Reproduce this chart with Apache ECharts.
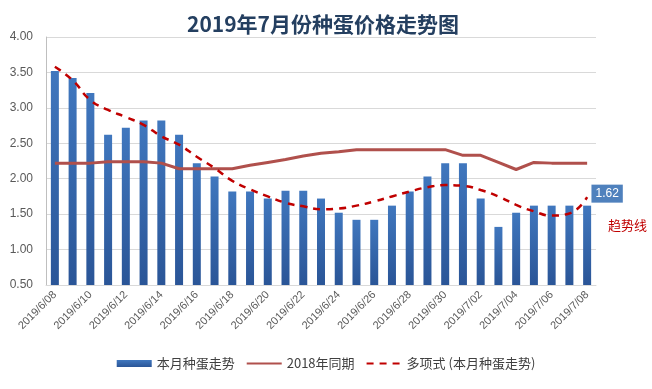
<!DOCTYPE html>
<html>
<head>
<meta charset="utf-8">
<script src="https://cdn.jsdelivr.net/npm/echarts@6/dist/echarts.min.js"></script>
<style>
html,body{margin:0;padding:0;background:#fff;}
#chart{width:652px;height:389px;}
</style>
</head>
<body>
<div id="chart"></div>
<script>
var categories = ['2019/6/08','2019/6/09','2019/6/10','2019/6/11','2019/6/12','2019/6/13','2019/6/14','2019/6/15','2019/6/16','2019/6/17','2019/6/18','2019/6/19','2019/6/20','2019/6/21','2019/6/22','2019/6/23','2019/6/24','2019/6/25','2019/6/26','2019/6/27','2019/6/28','2019/6/29','2019/6/30','2019/7/01','2019/7/02','2019/7/03','2019/7/04','2019/7/05','2019/7/06','2019/7/07','2019/7/08'];
var thisMonth = [3.52,3.42,3.21,2.62,2.72,2.82,2.82,2.62,2.22,2.03,1.82,1.82,1.72,1.83,1.83,1.72,1.52,1.42,1.42,1.62,1.82,2.03,2.22,2.22,1.72,1.32,1.52,1.62,1.62,1.62,1.62];
var lastYear = [2.22,2.22,2.22,2.24,2.24,2.24,2.22,2.14,2.14,2.14,2.14,2.19,2.23,2.27,2.32,2.36,2.38,2.41,2.41,2.41,2.41,2.41,2.41,2.33,2.33,2.23,2.13,2.23,2.22,2.22,2.22];
var trend = [3.58,3.39,3.11,2.97,2.87,2.76,2.60,2.48,2.31,2.15,1.97,1.85,1.75,1.66,1.61,1.57,1.58,1.62,1.68,1.75,1.82,1.88,1.91,1.90,1.84,1.75,1.63,1.54,1.48,1.51,1.74];
var yTicks = {min:0.5, max:4.0, interval:0.5};

var chart = echarts.init(document.getElementById('chart'));
var barData = thisMonth.map(function(v,i){
  if(i === thisMonth.length-1){
    return {value:v, label:{show:true, position:'top', distance:3, offset:[20,0],
      formatter:function(p){return p.value.toFixed(2);},
      backgroundColor:'#4F81BD', color:'#fff', fontSize:12, padding:[3,4,3,4],
      fontFamily:'Liberation Sans, Arial'}};
  }
  return v;
});
chart.setOption({
  animation:false,
  backgroundColor:'#fff',
  title:{text:'2019年7月份种蛋价格走势图', left:318, textAlign:'center', top:9,
    textStyle:{fontSize:21, fontWeight:'bold', color:'#243F60', fontFamily:'Noto Sans CJK SC'}},
  grid:{left:46, right:56, top:37, bottom:104},
  legend:{bottom:14, left:'center', itemWidth:35, itemHeight:7, itemGap:11,
    textStyle:{fontSize:13, color:'#404040', fontFamily:'Noto Sans CJK SC'},
    data:[{name:'本月种蛋走势', icon:'rect'},
          {name:'2018年同期', itemStyle:{opacity:0}},
          {name:'多项式 (本月种蛋走势)', itemStyle:{opacity:0}}]},
  xAxis:{type:'category', data:categories,
    axisLine:{lineStyle:{color:'#D9D9D9'}}, axisTick:{show:false},
    axisLabel:{interval:1, rotate:45, fontSize:11, color:'#595959', margin:8,
      fontFamily:'Liberation Sans, Arial'}},
  yAxis:{type:'value', min:yTicks.min, max:yTicks.max, interval:yTicks.interval,
    axisLine:{show:true, lineStyle:{color:'#BFBFBF'}}, axisTick:{show:false},
    splitLine:{lineStyle:{color:'#D9D9D9'}},
    axisLabel:{fontSize:12, color:'#595959', margin:13, fontFamily:'Liberation Sans, Arial',
      formatter:function(v){return v.toFixed(2);}}},
  graphic:[
    {type:'text', left:608, top:219, style:{text:'趋势线', fill:'#C00000', font:'13px "Noto Sans CJK SC"'}}
  ],
  series:[
    {name:'本月种蛋走势', type:'bar', data:barData, barWidth:8,
      itemStyle:{color:new echarts.graphic.LinearGradient(0,0,0,1,[{offset:0,color:'#4077BE'},{offset:1,color:'#2A5597'}])}},
    {name:'2018年同期', type:'line', data:lastYear, showSymbol:false, symbol:'none',
      lineStyle:{color:'#B0504C', width:3}, itemStyle:{color:'#B0504C'}},
    {name:'多项式 (本月种蛋走势)', type:'line', data:trend, showSymbol:false, symbol:'none', smooth:true, z:5,
      lineStyle:{color:'#C00000', width:2.5, type:[7,6]}, itemStyle:{color:'#C00000'}}
  ]
});
</script>
</body>
</html>
